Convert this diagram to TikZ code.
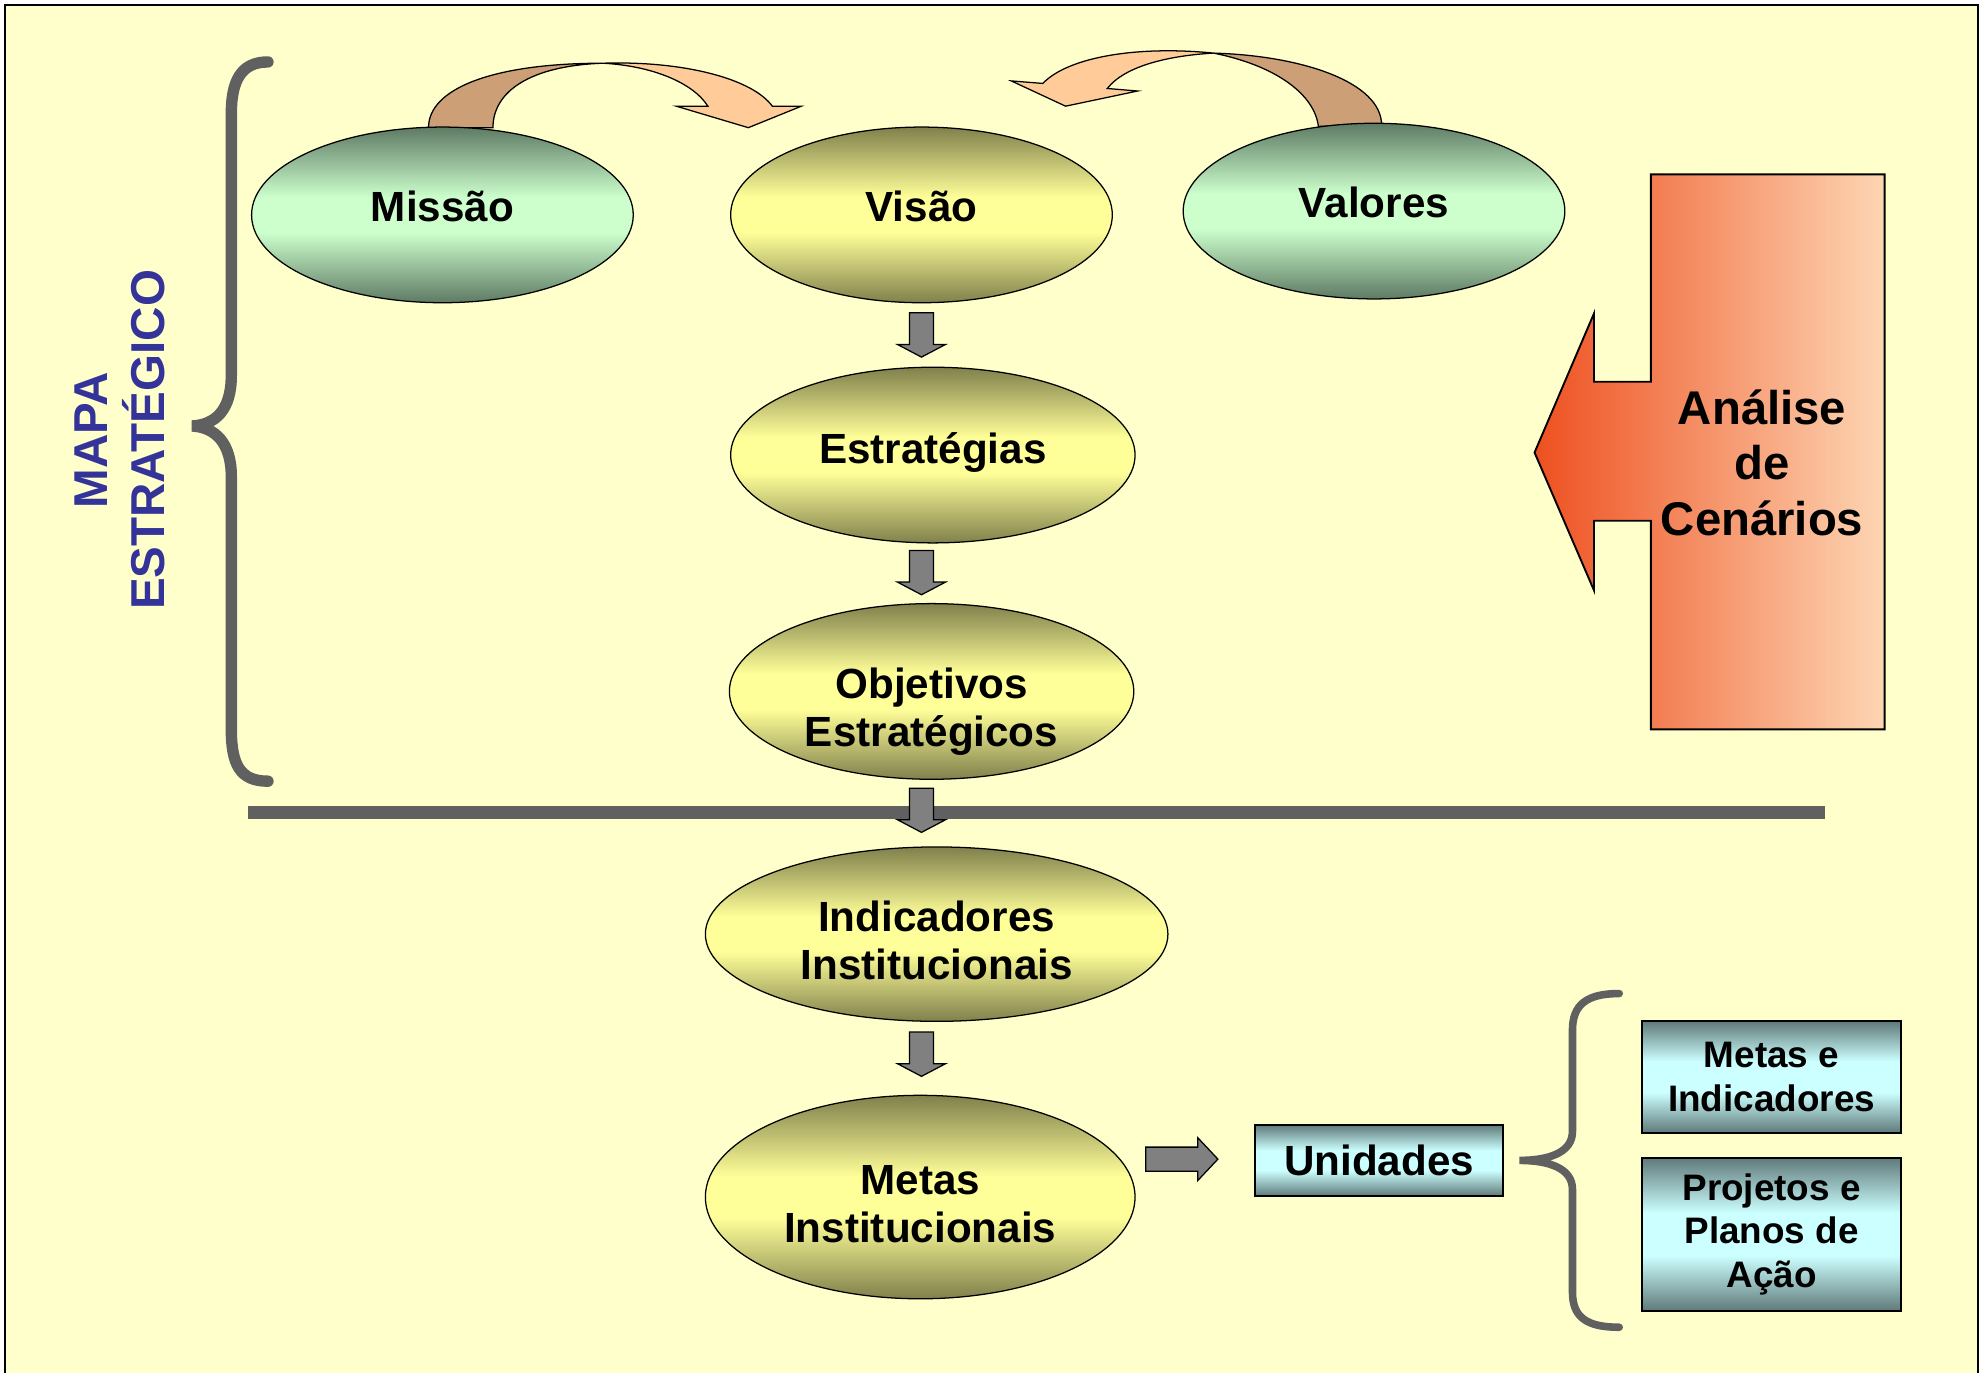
\documentclass[tikz,border=0pt]{standalone}
\usepackage{fontspec}
\setmainfont{Liberation Sans}
\usepackage{tikz}
\usetikzlibrary{shapes,calc}

\definecolor{bgyellow}{RGB}{255,255,204}
\definecolor{gdark}{RGB}{94,122,100}
\definecolor{glight}{RGB}{204,255,204}
\definecolor{ydark}{RGB}{128,128,76}
\definecolor{ylight}{RGB}{255,255,153}
\definecolor{tdark}{RGB}{96,122,122}
\definecolor{tlight}{RGB}{204,255,255}
\definecolor{ribbondark}{RGB}{204,159,119}
\definecolor{ribbonlight}{RGB}{255,204,153}
\definecolor{bracegray}{RGB}{96,96,96}
\definecolor{blockgray}{RGB}{128,128,128}
\definecolor{mapblue}{RGB}{51,51,153}
\definecolor{cenleft}{RGB}{238,80,32}
\definecolor{cenright}{RGB}{253,214,180}

\pgfdeclareverticalshading{greenband}{100bp}{color(0bp)=(gdark); color(25bp)=(gdark); color(45bp)=(glight); color(55bp)=(glight); color(75bp)=(gdark); color(100bp)=(gdark)}
\pgfdeclareverticalshading{yellowband}{100bp}{color(0bp)=(ydark); color(25bp)=(ydark); color(45bp)=(ylight); color(55bp)=(ylight); color(75bp)=(ydark); color(100bp)=(ydark)}
\pgfdeclareverticalshading{tealband}{100bp}{color(0bp)=(tdark); color(25bp)=(tdark); color(43bp)=(tlight); color(57bp)=(tlight); color(75bp)=(tdark); color(100bp)=(tdark)}

\tikzset{
  elli/.style={ellipse,draw,line width=0.02cm,inner sep=0pt,align=center,shade,
    font=\bfseries\fontsize{19pt}{21.5pt}\selectfont},
  greenelli/.style={elli,shading=greenband,minimum width=6.04cm,minimum height=2.78cm},
  yellowelli/.style={elli,shading=yellowband},
  tealbox/.style={rectangle,draw,line width=0.03cm,inner sep=0pt,align=center,shade,shading=tealband},
  blockarrow/.style={draw,fill=blockgray,line width=0.02cm},
  bracestyle/.style={draw=bracegray,line cap=round},
  blockdown/.pic={\draw[blockarrow] (-9.5,-17.5) -- (9.5,-17.5) -- (9.5,7.5) -- (19,7.5) -- (0,17.5) -- (-19,7.5) -- (-9.5,7.5) -- cycle;},
  blockright/.pic={\draw[blockarrow] (-28.5,-9.5) -- (12.5,-9.5) -- (12.5,-17) -- (28.5,0) -- (12.5,17) -- (12.5,9.5) -- (-28.5,9.5) -- cycle;}
}

\begin{document}
\begin{tikzpicture}[x=0.02cm,y=-0.02cm]
\useasboundingbox (0,0) rectangle (1568,1086);
\draw [line width=0.03cm,fill=bgyellow] (4,4) rectangle (1565,1100);

\draw [line width=0.02cm,fill=ribbondark] (339,101) .. controls (339,70) and (390,50) .. (477,50) .. controls (420,52) and (390,72) .. (390,101) -- cycle;
\draw [line width=0.02cm,fill=ribbonlight] (477,50) .. controls (540,48) and (595,62) .. (611,84) -- (634,84) -- (592,101) -- (535,84) -- (560,84) .. controls (548,65) and (515,52) .. (477,50) -- cycle;
\draw [line width=0.02cm,fill=ribbondark] (960,42) .. controls (1030,44) and (1093,65) .. (1093,99) -- (1043,100) .. controls (1040,75) and (1010,52) .. (960,42) -- cycle;
\draw [line width=0.02cm,fill=ribbonlight] (960,42) .. controls (900,36) and (845,45) .. (825,66) -- (800,64) -- (843,84) -- (900,72) -- (876,70) .. controls (890,52) and (925,44) .. (960,42) -- cycle;

\node (Missao) at (350,170)[greenelli,text height=14pt,text depth=8.4pt] {Missão};
\node (Visao) at (729,170)[yellowelli,minimum width=6.04cm,minimum height=2.78cm,text height=14pt,text depth=8.4pt] {Visão};
\node (Valores) at (1087,167)[greenelli,text height=14pt,text depth=8.4pt] {Valores};
\node (Estrategias) at (738,360)[yellowelli,minimum width=6.4cm,minimum height=2.78cm,text height=14pt,text depth=6pt] {Estratégias};
\node (Objetivos) at (737,547)[yellowelli,minimum width=6.4cm,minimum height=2.78cm,inner ysep=-3pt,text height=55pt,text depth=5.7pt] {Objetivos\\Estratégicos};
\node (Indicadores) at (741,739)[yellowelli,minimum width=7.32cm,minimum height=2.76cm,text height=45pt,text depth=4.3pt] {Indicadores\\Institucionais};
\node (Metas) at (728,947)[yellowelli,minimum width=6.8cm,minimum height=3.22cm,text height=45pt,text depth=4.3pt] {Metas\\Institucionais};

\draw [bracestyle,line width=0.18cm] (212,49) .. controls (190,49) and (183,65) .. (183,90) -- (183,297) .. controls (183,325) and (170,336) .. (152,337) .. controls (170,338) and (183,350) .. (183,377) -- (183,577) .. controls (183,605) and (190,618) .. (212,618);
\node (Mapa) at (95,348)[rotate=90,align=center,text=mapblue,font=\bfseries\fontsize{21.4pt}{25.5pt}\selectfont] {MAPA\\ESTRATÉGICO};

\draw [draw=bracegray,line width=0.2cm] (196,643) -- (1444,643);

\pic at (729,265) {blockdown};
\pic at (729,453) {blockdown};
\pic at (729,641) {blockdown};
\pic at (729,834) {blockdown};

\draw [line width=0.03cm,left color=cenleft,right color=cenright] (1306,138) -- (1491,138) -- (1491,577) -- (1306,577) -- (1306,412) -- (1261,412) -- (1261,467) -- (1214,358) -- (1261,248) -- (1261,302) -- (1306,302) -- cycle;
\node (Analise) at (1394,366)[align=center,font=\bfseries\fontsize{21.3pt}{25pt}\selectfont] {Análise\\de\\Cenários};

\node (Unidades) at (1091,918)[tealbox,minimum width=3.92cm,minimum height=1.12cm,font=\bfseries\fontsize{19pt}{21.5pt}\selectfont] {Unidades};
\pic at (935,917) {blockright};
\draw [bracestyle,line width=0.12cm] (1281,786) .. controls (1255,786) and (1244,795) .. (1244,815) -- (1244,895) .. controls (1244,912) and (1225,918) .. (1202,918) .. controls (1225,918) and (1244,924) .. (1244,941) -- (1244,1022) .. controls (1244,1042) and (1255,1050) .. (1281,1050);
\node (MetasInd) at (1401.5,852)[tealbox,minimum width=4.1cm,minimum height=1.76cm,font=\bfseries\fontsize{16.6pt}{19.5pt}\selectfont] {Metas e\\Indicadores};
\node (Projetos) at (1401.5,976.5)[tealbox,minimum width=4.1cm,minimum height=2.42cm,font=\bfseries\fontsize{16.6pt}{19.5pt}\selectfont] {Projetos e\\Planos de\\Ação};
\end{tikzpicture}
\end{document}
